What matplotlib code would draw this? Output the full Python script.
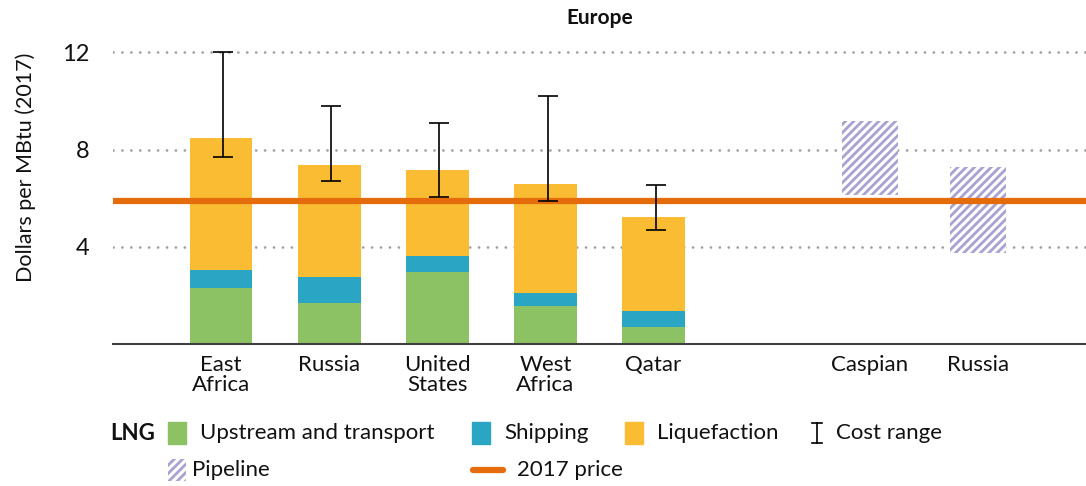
import numpy as np
import matplotlib
matplotlib.use("Agg")
import matplotlib.pyplot as plt
from matplotlib.patches import Rectangle
from matplotlib.lines import Line2D

plt.rcParams['font.family'] = ['Lato', 'DejaVu Sans']
plt.rcParams['hatch.linewidth'] = 2.0

# data
lng_labels = ["East\nAfrica", "Russia", "United\nStates", "West\nAfrica", "Qatar"]
upstream = [2.3, 1.7, 2.95, 1.55, 0.7]
shipping = [0.75, 1.05, 0.66, 0.56, 0.66]
liquefaction = [5.45, 4.64, 3.55, 4.49, 3.87]
cost_low = [7.7, 6.7, 6.05, 5.9, 4.7]
cost_high = [12.0, 9.8, 9.1, 10.2, 6.55]
pipe_labels = ["Caspian", "Russia"]
pipe_low = [6.15, 3.75]
pipe_high = [9.2, 7.3]
price_2017 = 5.9
yticks = [4, 8, 12]

c_green = '#8cc164'
c_blue = '#2aa6c4'
c_yellow = '#f9bc33'
c_orange = '#e46c0a'
c_pipe = '#a9a1d1'
c_text = '#111111'

fig = plt.figure(figsize=(10.86, 4.86), dpi=100)
ax = fig.add_axes([0.104, 0.292, 0.896, 0.650])

x_lng = np.arange(len(lng_labels))
x_pipe = np.arange(len(pipe_labels)) + len(lng_labels) + 1

# dotted gridlines
for y in yticks:
    ax.axhline(y, color='#a0a0a0', lw=2.0, ls=(0, (0.01, 3.2)), dash_capstyle='round', zorder=0)

up = np.array(upstream)
sh = np.array(shipping)
lq = np.array(liquefaction)
ax.bar(x_lng, up, width=0.58, color=c_green, zorder=2)
ax.bar(x_lng, sh, bottom=up, width=0.58, color=c_blue, zorder=2)
ax.bar(x_lng, lq, bottom=up + sh, width=0.58, color=c_yellow, zorder=2)

lo = np.array(pipe_low)
hi = np.array(pipe_high)
ax.bar(x_pipe, hi - lo, bottom=lo, width=0.52, color='white', edgecolor=c_pipe,
       hatch='////', linewidth=0, zorder=2)

ax.axhline(price_2017, color=c_orange, lw=4.5, zorder=3)

mid = (np.array(cost_low) + np.array(cost_high)) / 2
err = (np.array(cost_high) - np.array(cost_low)) / 2
ax.errorbar(x_lng + 0.02, mid, yerr=err, fmt='none', ecolor='black', elinewidth=1.2,
            capsize=7, capthick=1.2, zorder=4)

ax.set_xlim(-1.0, 8.0)
ax.set_ylim(0, 13)
ax.set_yticks(yticks)
ax.set_yticklabels([str(t) for t in yticks], fontsize=17)
ax.set_xticks(list(x_lng) + list(x_pipe))
ax.set_xticklabels(lng_labels + pipe_labels, fontsize=16, linespacing=1.0)
ax.tick_params(axis='both', length=0, colors=c_text)
ax.tick_params(axis='x', pad=8)
ax.tick_params(axis='y', pad=17)
for s in ['top', 'right', 'left']:
    ax.spines[s].set_visible(False)
ax.spines['bottom'].set_color('#404040')
ax.spines['bottom'].set_linewidth(1.5)

ax.set_ylabel("Dollars per MBtu (2017)", fontsize=15.5, color=c_text)
ax.yaxis.set_label_coords(-0.079, 0.56)
fig.text(0.552, 1 - 18 / 486, "Europe", fontsize=15, fontweight='bold',
         ha='center', va='center', color=c_text)

# legend drawn in pixel coordinates
lg = fig.add_axes([0, 0, 1, 1], zorder=-1)
lg.set_xlim(0, 1086)
lg.set_ylim(486, 0)
lg.axis('off')
fs = 16
r1, r2 = 433, 470
lg.text(110, r1, "LNG", fontsize=fs, fontweight='bold', va='center', color=c_text)
for x0, col, label in [(168, c_green, "Upstream and transport"),
                       (472, c_blue, "Shipping"),
                       (625, c_yellow, "Liquefaction")]:
    lg.add_patch(Rectangle((x0, r1 - 11), 18, 22, color=col))
    lg.text(x0 + 32, r1, label, fontsize=fs, va='center', color=c_text)
lg.add_line(Line2D([817, 817], [r1 - 10, r1 + 10], color='black', lw=1.2))
lg.add_line(Line2D([812, 822], [r1 - 10, r1 - 10], color='black', lw=1.2))
lg.add_line(Line2D([812, 822], [r1 + 10, r1 + 10], color='black', lw=1.2))
lg.text(836, r1, "Cost range", fontsize=fs, va='center', color=c_text)
lg.add_patch(Rectangle((168, r2 - 11), 18, 22, facecolor='white', edgecolor=c_pipe,
                       hatch='////', linewidth=0))
lg.text(192, r2, "Pipeline", fontsize=fs, va='center', color=c_text)
lg.add_line(Line2D([473, 503], [r2, r2], color=c_orange, lw=4.5, solid_capstyle='round'))
lg.text(517, r2, "2017 price", fontsize=fs, va='center', color=c_text)

fig.savefig("out.png", dpi=100)
